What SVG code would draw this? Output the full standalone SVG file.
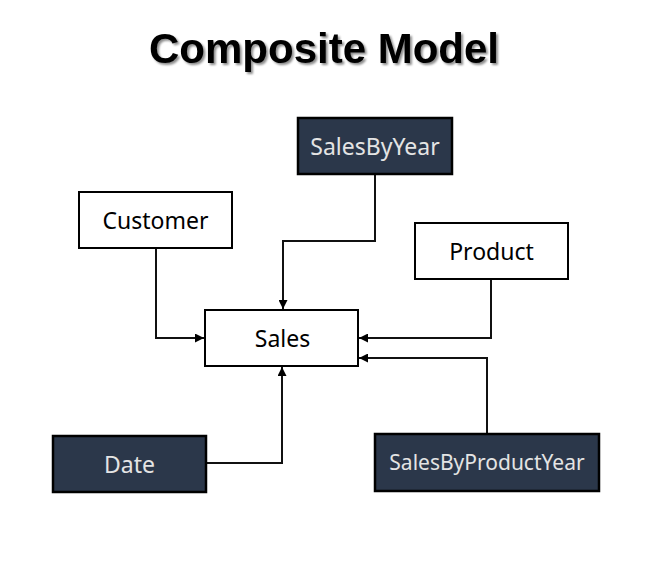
<svg xmlns="http://www.w3.org/2000/svg" width="655" height="565" viewBox="0 0 655 565">
<defs>
<filter id="sh" x="-5%" y="-20%" width="110%" height="150%">
<feDropShadow dx="2" dy="2" stdDeviation="1.2" flood-color="#000" flood-opacity="0.45"/>
</filter>
<marker id="ah" viewBox="0 0 10 10" refX="10" refY="5" markerWidth="9" markerHeight="9" markerUnits="userSpaceOnUse" orient="auto">
<path d="M0,0 L10,5 L0,10 z" fill="#000"/>
</marker>
<style>
.light rect{fill:#fff;stroke:#000;stroke-width:2}
.dark rect{fill:#2B374A;stroke:#000;stroke-width:2.5}
.light text{fill:#000}
.dark text{fill:#E4E4E4}
text.lbl{font-family:"Noto Sans","Open Sans",sans-serif;font-size:23px;text-anchor:middle}
.conn path{fill:none;stroke:#111;stroke-width:2;marker-end:url(#ah)}
</style>
</defs>
<rect width="655" height="565" fill="#fff"/>
<text x="324" y="63" font-family="'Liberation Sans',Arial,sans-serif" font-weight="bold" font-size="42" text-anchor="middle" filter="url(#sh)">Composite Model</text>
<g class="conn">
<path d="M375,174 V241 H283 V309"/>
<path d="M156,248 V338 H204"/>
<path d="M491,279 V338 H359"/>
<path d="M487,434 V358 H359"/>
<path d="M206,463 H282 V367"/>
</g>
<g id="SalesByYear" class="dark"><rect x="298" y="118" width="154" height="56"/><text class="lbl" x="375" y="155">SalesByYear</text></g>
<g id="Customer" class="light"><rect x="79" y="192" width="153" height="56"/><text class="lbl" x="155.5" y="229">Customer</text></g>
<g id="Product" class="light"><rect x="415" y="223" width="153" height="56"/><text class="lbl" x="491.5" y="260">Product</text></g>
<g id="Sales" class="light"><rect x="205" y="310" width="153" height="56"/><text class="lbl" x="282.5" y="347">Sales</text></g>
<g id="Date" class="dark"><rect x="53" y="436" width="153" height="56"/><text class="lbl" x="129.5" y="473">Date</text></g>
<g id="SalesByProductYear" class="dark"><rect x="375" y="434" width="224" height="57"/><text class="lbl" x="487" y="470" style="font-size:21px">SalesByProductYear</text></g>
</svg>
